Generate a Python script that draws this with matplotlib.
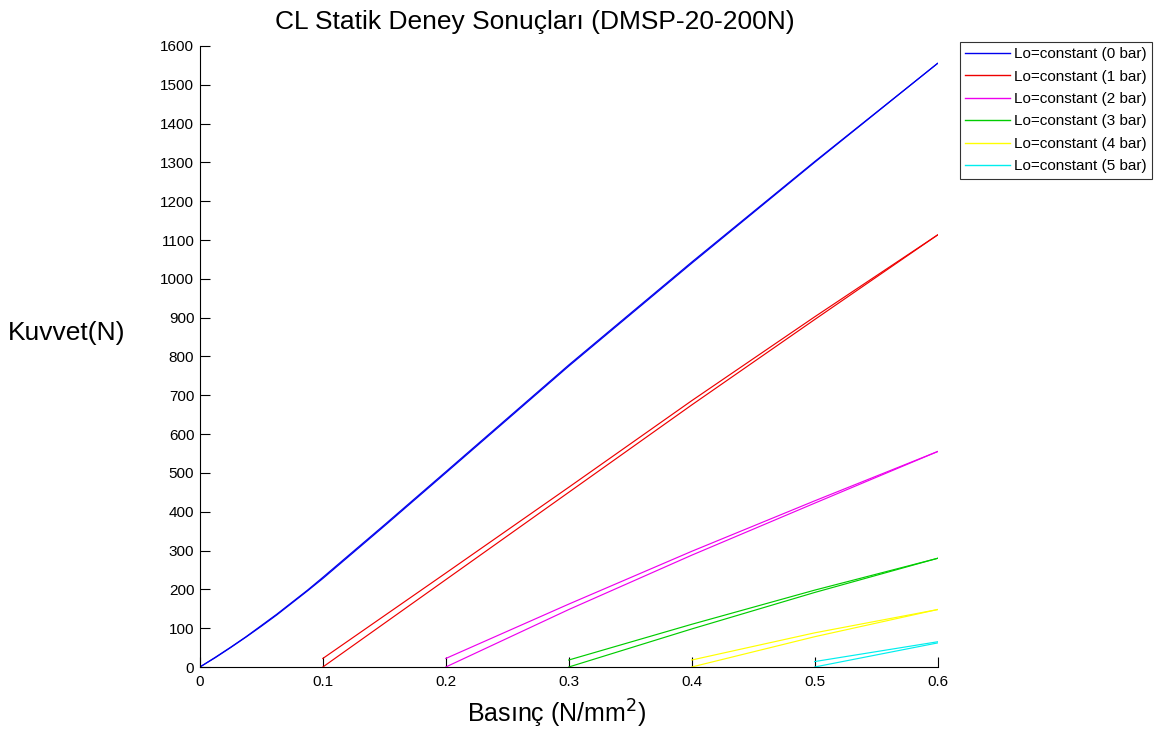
import matplotlib.pyplot as plt

plt.rcParams['font.family'] = ['Liberation Sans', 'DejaVu Sans']

# pressure values (N/mm^2) and force readings (N), loading / unloading branches
p_0bar = [0.0, 0.0125, 0.025, 0.0375, 0.05, 0.0625, 0.075, 0.0875, 0.1,
          0.15, 0.2, 0.3, 0.4, 0.5, 0.6]
f_0bar_up = [0, 24, 50, 77, 105, 134, 165, 196, 228,
             363, 500, 775, 1040, 1300, 1555]
f_0bar_down = [0, 25, 51, 78, 107, 136, 167, 198, 231,
               366, 503, 778, 1043, 1302, 1555]

p_1bar = [0.1, 0.2, 0.3, 0.4, 0.5, 0.6]
f_1bar_up = [0, 225, 450, 675, 895, 1113]
f_1bar_down = [22, 242, 463, 686, 902, 1113]

p_2bar = [0.2, 0.3, 0.4, 0.5, 0.6]
f_2bar_up = [0, 148, 288, 422, 555]
f_2bar_down = [22, 162, 298, 428, 555]

p_3bar = [0.3, 0.4, 0.5, 0.6]
f_3bar_up = [0, 98, 192, 280]
f_3bar_down = [18, 110, 198, 280]

p_4bar = [0.4, 0.5, 0.6]
f_4bar_up = [0, 78, 148]
f_4bar_down = [18, 88, 148]

p_5bar = [0.5, 0.6]
f_5bar_up = [0, 62]
f_5bar_down = [14, 65]

labels = ['Lo=constant (0 bar)', 'Lo=constant (1 bar)', 'Lo=constant (2 bar)',
          'Lo=constant (3 bar)', 'Lo=constant (4 bar)', 'Lo=constant (5 bar)']
colors = ['#0000ee', '#ee0000', '#ee00ee', '#00cc00', '#ffff00', '#00eeee']

series = [(p_0bar, f_0bar_up, f_0bar_down), (p_1bar, f_1bar_up, f_1bar_down),
          (p_2bar, f_2bar_up, f_2bar_down), (p_3bar, f_3bar_up, f_3bar_down),
          (p_4bar, f_4bar_up, f_4bar_down), (p_5bar, f_5bar_up, f_5bar_down)]

fig = plt.figure(figsize=(11.69, 7.35), dpi=100)
ax = fig.add_axes([0.171, 0.0925, 0.631, 0.845])

for (p, up, down), lab, c in zip(series, labels, colors):
    ax.plot(p, up, color=c, lw=0.85, label=lab)
    ax.plot(p, down, color=c, lw=0.85)

ax.set_xlim(0, 0.6)
ax.set_ylim(0, 1600)
ax.set_xticks([0, 0.1, 0.2, 0.3, 0.4, 0.5, 0.6])
ax.set_xticklabels(['0', '0.1', '0.2', '0.3', '0.4', '0.5', '0.6'])
ax.set_yticks(range(0, 1601, 100))
ax.tick_params(direction='in', length=7, width=0.8, labelsize=11, pad=4)
ax.tick_params(axis='x', pad=6)
ax.spines['top'].set_visible(False)
ax.spines['right'].set_visible(False)

fig.text(535 / 1169, 1 - 29 / 735, 'CL Statik Deney Sonuçları (DMSP-20-200N)',
         fontsize=19, ha='center', va='baseline')
fig.text(557 / 1169, 1 - 723 / 735, 'Basınç (N/mm$^2$)', fontsize=18,
         ha='center', va='baseline')
fig.text(67 / 1169, 1 - 333 / 735, 'Kuvvet(N)', fontsize=19,
         ha='center', va='center')

leg = ax.legend(loc='upper left', bbox_to_anchor=(0.821, 0.943),
                bbox_transform=fig.transFigure, fontsize=11, frameon=True,
                fancybox=False, edgecolor='black', borderpad=0.35,
                handlelength=2.95, handletextpad=0.26, labelspacing=0.55,
                borderaxespad=0)
leg.get_frame().set_linewidth(0.8)
for line in leg.get_lines():
    line.set_linewidth(1.0)

fig.savefig('out.png', dpi=100)
